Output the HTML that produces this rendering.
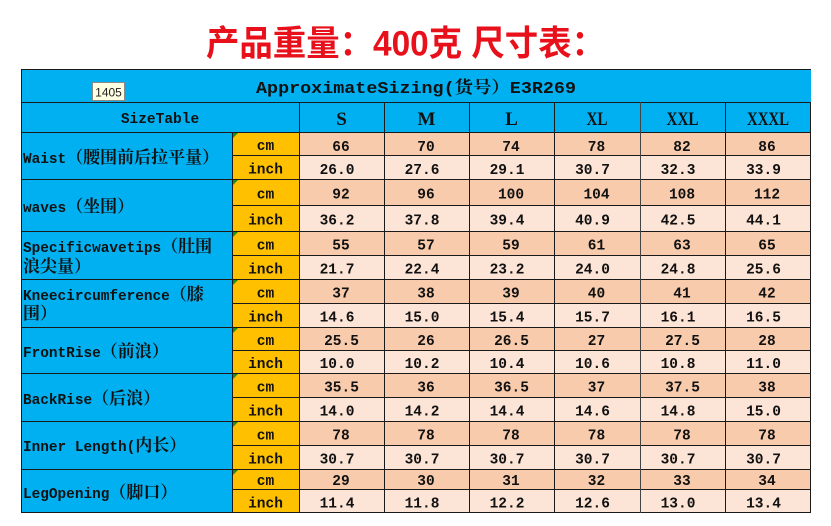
<!DOCTYPE html>
<html><head><meta charset="utf-8"><style>
html,body{margin:0;padding:0;background:#fff;}
svg{display:block;}
.m{font-family:"Liberation Mono","Noto Serif CJK SC",monospace;font-weight:bold;fill:#111;}
.c{font-family:"Noto Serif CJK SC","Noto Sans CJK SC",serif;font-weight:bold;}
.v{font-family:"Liberation Mono",monospace;font-weight:bold;font-size:14.5px;fill:#111;text-anchor:middle;}
.sz{font-family:"Liberation Serif",serif;font-weight:bold;font-size:19px;fill:#111;text-anchor:middle;}
</style></head><body>
<svg width="831" height="526" viewBox="0 0 831 526" xmlns="http://www.w3.org/2000/svg">
<rect width="831" height="526" fill="#fff"/>
<text x="206" y="55.5" textLength="399" lengthAdjust="spacingAndGlyphs" font-family="Liberation Sans, Noto Sans CJK SC, sans-serif" font-weight="bold" font-size="35" fill="#E8101A">产品重量：400克 尺寸表：</text>

<!-- fills -->
<rect x="21" y="69" width="790" height="63" fill="#00B0F0"/>
<rect x="21" y="132" width="211" height="381" fill="#00B0F0"/>
<rect x="232" y="132" width="67" height="381" fill="#FFC000"/>
<g fill="#F8CBAD">
<rect x="299" y="132" width="512" height="23"/>
<rect x="299" y="179" width="512" height="26"/>
<rect x="299" y="231" width="512" height="24"/>
<rect x="299" y="279" width="512" height="24"/>
<rect x="299" y="327" width="512" height="23"/>
<rect x="299" y="373" width="512" height="24"/>
<rect x="299" y="421" width="512" height="24"/>
<rect x="299" y="469" width="512" height="20"/>
</g>
<g fill="#FCE4D6">
<rect x="299" y="155" width="512" height="24"/>
<rect x="299" y="205" width="512" height="26"/>
<rect x="299" y="255" width="512" height="24"/>
<rect x="299" y="303" width="512" height="24"/>
<rect x="299" y="350" width="512" height="23"/>
<rect x="299" y="397" width="512" height="24"/>
<rect x="299" y="445" width="512" height="24"/>
<rect x="299" y="489" width="512" height="24"/>
</g>

<!-- lines -->
<g stroke="#1a1a1a" stroke-width="1" shape-rendering="crispEdges" fill="none">
<line x1="21" y1="69.5" x2="811" y2="69.5"/>
<line x1="21" y1="102.5" x2="811" y2="102.5"/>
<line x1="21" y1="132.5" x2="811" y2="132.5"/>
<line x1="21" y1="179.5" x2="811" y2="179.5"/>
<line x1="21" y1="231.5" x2="811" y2="231.5"/>
<line x1="21" y1="279.5" x2="811" y2="279.5"/>
<line x1="21" y1="327.5" x2="811" y2="327.5"/>
<line x1="21" y1="373.5" x2="811" y2="373.5"/>
<line x1="21" y1="421.5" x2="811" y2="421.5"/>
<line x1="21" y1="469.5" x2="811" y2="469.5"/>
<line x1="21" y1="512.5" x2="811" y2="512.5"/>
<line x1="232" y1="155.5" x2="811" y2="155.5"/>
<line x1="232" y1="205.5" x2="811" y2="205.5"/>
<line x1="232" y1="255.5" x2="811" y2="255.5"/>
<line x1="232" y1="303.5" x2="811" y2="303.5"/>
<line x1="232" y1="350.5" x2="811" y2="350.5"/>
<line x1="232" y1="397.5" x2="811" y2="397.5"/>
<line x1="232" y1="445.5" x2="811" y2="445.5"/>
<line x1="232" y1="489.5" x2="811" y2="489.5"/>
<line x1="21.5" y1="69" x2="21.5" y2="513"/>
<line x1="232.5" y1="132" x2="232.5" y2="513"/>
<line x1="299.5" y1="102" x2="299.5" y2="513"/>
<line x1="384.5" y1="102" x2="384.5" y2="513"/>
<line x1="469.5" y1="102" x2="469.5" y2="513"/>
<line x1="554.5" y1="102" x2="554.5" y2="513"/>
<line x1="640.5" y1="102" x2="640.5" y2="513" stroke="#444"/>
<line x1="725.5" y1="102" x2="725.5" y2="513"/>
<line x1="810.5" y1="102" x2="810.5" y2="513"/>
</g>

<!-- green markers -->
<g fill="#1E8C1E">
<polygon points="233,133 238,133 233,138"/>
<polygon points="233,180 238,180 233,185"/>
<polygon points="233,232 238,232 233,237"/>
<polygon points="233,280 238,280 233,285"/>
<polygon points="233,328 238,328 233,333"/>
<polygon points="233,374 238,374 233,379"/>
<polygon points="233,422 238,422 233,427"/>
<polygon points="233,470 238,470 233,475"/>
</g>

<!-- 1405 box -->
<rect x="92.5" y="82.5" width="32" height="18" fill="#FFFFE1" stroke="#8a8a8a" stroke-width="1"/>
<text x="108.5" y="96.5" font-family="Liberation Sans, sans-serif" font-size="12" fill="#222" text-anchor="middle">1405</text>

<!-- header texts -->
<text class="m" x="256" y="93" font-size="17" textLength="320" lengthAdjust="spacingAndGlyphs">ApproximateSizing(<tspan class="c">货号）</tspan>E3R269</text>
<text class="m" x="160" y="123" font-size="14.5" text-anchor="middle">SizeTable</text>
<text class="sz" x="341.5" y="125">S</text>
<text class="sz" x="426.5" y="125">M</text>
<text class="sz" x="511.5" y="125">L</text>
<text class="sz" x="597" y="125" textLength="21" lengthAdjust="spacingAndGlyphs">XL</text>
<text class="sz" x="682.5" y="125" textLength="32" lengthAdjust="spacingAndGlyphs">XXL</text>
<text class="sz" x="768" y="125" textLength="42" lengthAdjust="spacingAndGlyphs">XXXL</text>

<!-- labels -->
<g class="m" font-size="14.4">
<text x="23" y="163">Waist<tspan class="c" font-size="17">（腰围前后拉平量）</tspan></text>
<text x="23" y="212">waves<tspan class="c" font-size="17">（坐围）</tspan></text>
<text x="23" y="252">Specificwavetips<tspan class="c" font-size="17">（肚围</tspan></text>
<text x="23" y="272"><tspan class="c" font-size="17">浪尖量）</tspan></text>
<text x="23" y="300">Kneecircumference<tspan class="c" font-size="17">（膝</tspan></text>
<text x="23" y="319"><tspan class="c" font-size="17">围）</tspan></text>
<text x="23" y="357">FrontRise<tspan class="c" font-size="17">（前浪）</tspan></text>
<text x="23" y="404">BackRise<tspan class="c" font-size="17">（后浪）</tspan></text>
<text x="23" y="451">Inner Length(<tspan class="c" font-size="17">内长）</tspan></text>
<text x="23" y="498">LegOpening<tspan class="c" font-size="17">（脚口）</tspan></text>
</g>

<!-- units -->
<g class="v">
<text x="265.5" y="150">cm</text><text x="265.5" y="173.5">inch</text>
<text x="265.5" y="198.5">cm</text><text x="265.5" y="224.5">inch</text>
<text x="265.5" y="249.5">cm</text><text x="265.5" y="273.5">inch</text>
<text x="265.5" y="297.5">cm</text><text x="265.5" y="321.5">inch</text>
<text x="265.5" y="345">cm</text><text x="265.5" y="368">inch</text>
<text x="265.5" y="391.5">cm</text><text x="265.5" y="415.5">inch</text>
<text x="265.5" y="439.5">cm</text><text x="265.5" y="463.5">inch</text>
<text x="265.5" y="485">cm</text><text x="265.5" y="507.5">inch</text>
</g>

<!-- values -->
<g class="v">
<!-- Waist -->
<text x="341" y="151">66</text><text x="426" y="151">70</text><text x="511" y="151">74</text><text x="596.5" y="151">78</text><text x="682" y="151">82</text><text x="767" y="151">86</text>
<text x="337" y="174">26.0</text><text x="422" y="174">27.6</text><text x="507" y="174">29.1</text><text x="592.5" y="174">30.7</text><text x="678" y="174">32.3</text><text x="763.5" y="174">33.9</text>
<!-- waves -->
<text x="341" y="198.5">92</text><text x="426" y="198.5">96</text><text x="511" y="198.5">100</text><text x="596.5" y="198.5">104</text><text x="682" y="198.5">108</text><text x="767" y="198.5">112</text>
<text x="337" y="224.5">36.2</text><text x="422" y="224.5">37.8</text><text x="507" y="224.5">39.4</text><text x="592.5" y="224.5">40.9</text><text x="678" y="224.5">42.5</text><text x="763.5" y="224.5">44.1</text>
<!-- Spec -->
<text x="341" y="249.5">55</text><text x="426" y="249.5">57</text><text x="511" y="249.5">59</text><text x="596.5" y="249.5">61</text><text x="682" y="249.5">63</text><text x="767" y="249.5">65</text>
<text x="337" y="273.5">21.7</text><text x="422" y="273.5">22.4</text><text x="507" y="273.5">23.2</text><text x="592.5" y="273.5">24.0</text><text x="678" y="273.5">24.8</text><text x="763.5" y="273.5">25.6</text>
<!-- Knee -->
<text x="341" y="297.5">37</text><text x="426" y="297.5">38</text><text x="511" y="297.5">39</text><text x="596.5" y="297.5">40</text><text x="682" y="297.5">41</text><text x="767" y="297.5">42</text>
<text x="337" y="321.5">14.6</text><text x="422" y="321.5">15.0</text><text x="507" y="321.5">15.4</text><text x="592.5" y="321.5">15.7</text><text x="678" y="321.5">16.1</text><text x="763.5" y="321.5">16.5</text>
<!-- Front -->
<text x="341.5" y="345">25.5</text><text x="426" y="345">26</text><text x="511.5" y="345">26.5</text><text x="596.5" y="345">27</text><text x="682.5" y="345">27.5</text><text x="767" y="345">28</text>
<text x="337" y="368">10.0</text><text x="422" y="368">10.2</text><text x="507" y="368">10.4</text><text x="592.5" y="368">10.6</text><text x="678" y="368">10.8</text><text x="763.5" y="368">11.0</text>
<!-- Back -->
<text x="341.5" y="391.5">35.5</text><text x="426" y="391.5">36</text><text x="511.5" y="391.5">36.5</text><text x="596.5" y="391.5">37</text><text x="682.5" y="391.5">37.5</text><text x="767" y="391.5">38</text>
<text x="337" y="415.5">14.0</text><text x="422" y="415.5">14.2</text><text x="507" y="415.5">14.4</text><text x="592.5" y="415.5">14.6</text><text x="678" y="415.5">14.8</text><text x="763.5" y="415.5">15.0</text>
<!-- Inner -->
<text x="341" y="439.5">78</text><text x="426" y="439.5">78</text><text x="511" y="439.5">78</text><text x="596.5" y="439.5">78</text><text x="682" y="439.5">78</text><text x="767" y="439.5">78</text>
<text x="337" y="463.5">30.7</text><text x="422" y="463.5">30.7</text><text x="507" y="463.5">30.7</text><text x="592.5" y="463.5">30.7</text><text x="678" y="463.5">30.7</text><text x="763.5" y="463.5">30.7</text>
<!-- Leg -->
<text x="341" y="485">29</text><text x="426" y="485">30</text><text x="511" y="485">31</text><text x="596.5" y="485">32</text><text x="682" y="485">33</text><text x="767" y="485">34</text>
<text x="337" y="507.5">11.4</text><text x="422" y="507.5">11.8</text><text x="507" y="507.5">12.2</text><text x="592.5" y="507.5">12.6</text><text x="678" y="507.5">13.0</text><text x="763.5" y="507.5">13.4</text>
</g>
</svg>
</body></html>
